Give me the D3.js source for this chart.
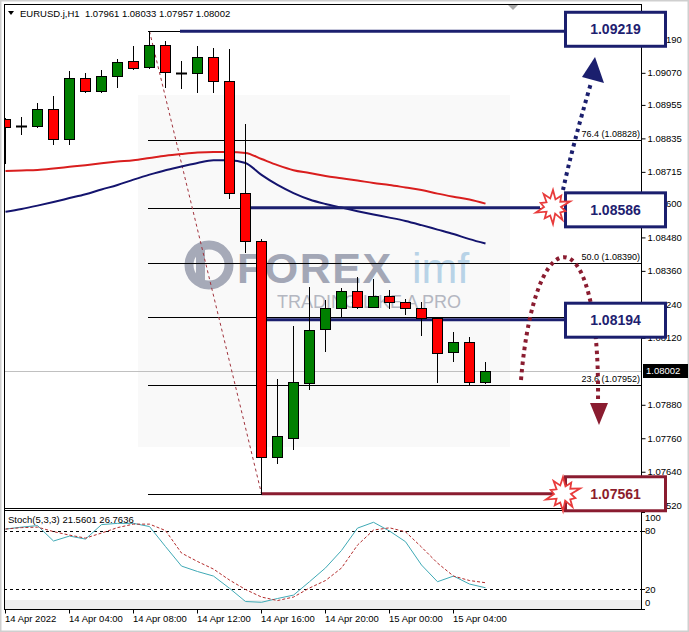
<!DOCTYPE html>
<html><head><meta charset="utf-8">
<script src="https://cdn.jsdelivr.net/npm/d3@7"></script>
<style>
body{margin:0;background:#fff}
svg{display:block}
text{font-family:"Liberation Sans",Arial,sans-serif}
</style>
</head><body>
<svg id="c" width="689" height="632"></svg>
<script>
// ---------------- DATA ----------------
const times = ["2022-04-14 00:00","2022-04-14 01:00","2022-04-14 02:00","2022-04-14 03:00","2022-04-14 04:00","2022-04-14 05:00","2022-04-14 06:00","2022-04-14 07:00","2022-04-14 08:00","2022-04-14 09:00","2022-04-14 10:00","2022-04-14 11:00","2022-04-14 12:00","2022-04-14 13:00","2022-04-14 14:00","2022-04-14 15:00","2022-04-14 16:00","2022-04-14 17:00","2022-04-14 18:00","2022-04-14 19:00","2022-04-14 20:00","2022-04-14 21:00","2022-04-14 22:00","2022-04-14 23:00","2022-04-15 00:00","2022-04-15 01:00","2022-04-15 02:00","2022-04-15 03:00","2022-04-15 04:00","2022-04-15 05:00","2022-04-15 06:00"];
const open  = [1.08904,1.08879,1.08879,1.08940,1.08832,1.09051,1.09005,1.09058,1.09112,1.09091,1.09169,1.09070,1.09069,1.09126,1.09040,1.08640,1.08468,1.07693,1.07762,1.07959,1.08152,1.08227,1.08288,1.08231,1.08271,1.08248,1.08226,1.08190,1.08068,1.08104,1.07961];
const high  = [1.08908,1.08911,1.08962,1.08987,1.09076,1.09069,1.09080,1.09119,1.09166,1.09219,1.09185,1.09113,1.09166,1.09159,1.09155,1.08886,1.08474,1.07972,1.08162,1.08303,1.08256,1.08299,1.08338,1.08331,1.08291,1.08259,1.08249,1.08196,1.08142,1.08124,1.08033];
const low   = [1.08746,1.08850,1.08877,1.08815,1.08815,1.09003,1.09003,1.09019,1.09083,1.09089,1.09020,1.09016,1.09002,1.09002,1.08621,1.08428,1.07561,1.07672,1.07721,1.07937,1.08074,1.08196,1.08227,1.08229,1.08228,1.08205,1.08130,1.07960,1.08038,1.07954,1.07957];
const close = [1.08876,1.08879,1.08940,1.08832,1.09051,1.09005,1.09058,1.09108,1.09087,1.09169,1.09073,1.09070,1.09126,1.09040,1.08640,1.08468,1.07693,1.07768,1.07962,1.08148,1.08227,1.08288,1.08231,1.08271,1.08247,1.08226,1.08190,1.08064,1.08104,1.07960,1.08002];
const maSlow = [1.08718,1.08720,1.08722,1.08727,1.08733,1.08739,1.08746,1.08752,1.08757,1.08765,1.08773,1.08779,1.08784,1.08786,1.08786,1.08783,1.08761,1.08739,1.08721,1.08711,1.08700,1.08692,1.08684,1.08675,1.08668,1.08659,1.08650,1.08637,1.08626,1.08616,1.08601];
const maFast = [1.08572,1.08582,1.08594,1.08607,1.08621,1.08635,1.08652,1.08668,1.08687,1.08705,1.08721,1.08734,1.08747,1.08757,1.08757,1.08747,1.08704,1.08668,1.08639,1.08616,1.08600,1.08587,1.08574,1.08562,1.08551,1.08539,1.08524,1.08508,1.08492,1.08474,1.08458];
const stochK = [82,84,85.6,69.7,74.8,71.7,86.6,87.9,87.9,84.6,64,43.9,38.3,33.6,21,7.4,6.6,10.5,14,27.8,42,60,83,89,80,69,45,27.8,33.6,25.4,21.56];
const stochD = [82,83.5,84,79.4,75.8,72.7,77.9,83.5,87.1,87.1,80.5,57.3,48.6,40.8,29.5,19.8,12,8.4,12,21.3,29,41.9,65.5,81,83.3,79.2,63.5,47,33.6,29,26.76];
const priceTicks = [1.09190,1.09070,1.08955,1.08835,1.08715,1.08600,1.08480,1.08360,1.08240,1.08120,1.07880,1.07760,1.07640,1.07520];
const stochTicks = [100,80,20,0];
const stochLevels = [80,20];
const timeTicks = ["2022-04-14 00:00","2022-04-14 04:00","2022-04-14 08:00","2022-04-14 12:00","2022-04-14 16:00","2022-04-14 20:00","2022-04-15 00:00","2022-04-15 04:00"];
const timeTickLabels = ["14 Apr 2022","14 Apr 04:00","14 Apr 08:00","14 Apr 12:00","14 Apr 16:00","14 Apr 20:00","15 Apr 00:00","15 Apr 04:00"];
const fibHigh = 1.09219, fibLow = 1.07561;
const fibPercents = [0,23.6,38.2,50,61.8,76.4,100];
const fibLabelled = ["23.6 (1.07952)","50.0 (1.08390)","76.4 (1.08828)"];
const fibLabelledPct = [23.6,50,76.4];
const keyLevels = [1.09219,1.08586,1.08194,1.07561];
const keyLabels = ["1.09219","1.08586","1.08194","1.07561"];
const lastPrice = 1.08002;
const headerText = "EURUSD.j,H1  1.07961 1.08033 1.07957 1.08002";
const stochText = "Stoch(5,3,3) 21.5601 26.7636";

// ---------------- SETUP ----------------
const svg = d3.select("#c");
const parse = d3.timeParse("%Y-%m-%d %H:%M");
const T = times.map(parse);
const L = 4, R = 641, MT = 4, MB = 508, ST = 510.5, SB = 609;
const x = d3.scaleTime().domain([T[0], T[T.length-1]]).range([5.5, 485.5]);
const y = d3.scaleLinear().domain([1.07510, 1.09306]).range([508, 7]);
const ys = d3.scaleLinear().domain([0,100]).range([608.7, 511.6]);
const NAVY = "#1b1f6e", MAROON = "#8a1c30", RED = "#ff0000", GREEN = "#008000";
const FS = "9.5px";

const defs = svg.append("defs");
defs.append("clipPath").attr("id","cm").append("rect").attr("x",L+0.5).attr("y",MT+0.5).attr("width",R-L-0.5).attr("height",MB-MT-0.5);
defs.append("clipPath").attr("id","cs").append("rect").attr("x",L+0.5).attr("y",ST+0.5).attr("width",R-L-0.5).attr("height",SB-ST-0.5);

// outer frame
svg.append("rect").attr("x",0.5).attr("y",0.5).attr("width",688).attr("height",631).attr("fill","#fff").attr("stroke","#cfcfcf").attr("stroke-width",2);

const gm = svg.append("g").attr("clip-path","url(#cm)");

// watermark
gm.append("rect").attr("x",138).attr("y",95).attr("width",372).attr("height",352).attr("fill","#f9f9f9");
gm.append("circle").attr("cx",209).attr("cy",265).attr("r",20).attr("fill","none").attr("stroke","#a6aab8").attr("stroke-width",9);
gm.append("rect").attr("x",196).attr("y",250).attr("width",9).attr("height",30).attr("fill","#a6aab8");
gm.append("text").attr("x",237).attr("y",283).attr("font-size","43px").attr("font-weight","bold").attr("letter-spacing","1.5px").attr("fill","#a3a7b6").text("FOREX");
gm.append("text").attr("x",412).attr("y",283).attr("font-size","43px").attr("fill","#b8d3e7").text("imf");
gm.append("text").attr("x",277).attr("y",308).attr("font-size","18px").attr("fill","#b4b7c1").text("TRADING LIKE A PRO");

// current price line
gm.append("line").attr("x1",L).attr("x2",R).attr("y1",Math.round(y(lastPrice))+0.5).attr("y2",Math.round(y(lastPrice))+0.5).attr("stroke","#c0c0c0");

// fib lines
const fibX0 = x(T[9]) - 1.5;
const fibPrice = p => fibLow + (fibHigh - fibLow) * p / 100;
gm.selectAll("line.fib").data(fibPercents).join("line").attr("class","fib")
  .attr("x1",fibX0).attr("x2",R)
  .attr("y1",p=>Math.round(y(fibPrice(p)))+0.5).attr("y2",p=>Math.round(y(fibPrice(p)))+0.5)
  .attr("stroke","#000").attr("stroke-width",1);
gm.selectAll("text.fibl").data(fibLabelledPct).join("text").attr("class","fibl")
  .attr("x",R-1).attr("y",p=>Math.round(y(fibPrice(p)))-3).attr("text-anchor","end")
  .attr("font-size","9px").attr("fill","#000").text((p,i)=>fibLabelled[i]);
// fib trend (dashed diagonal)
gm.append("line").attr("x1",x(T[9])).attr("y1",y(fibHigh)).attr("x2",x(T[16])).attr("y2",y(fibLow))
  .attr("stroke","#a0323c").attr("stroke-width",1).attr("stroke-dasharray","3,3");

// moving averages
const lineGen = arr => d3.line().x((d,i)=>x(T[i])).y(d=>y(d)).curve(d3.curveMonotoneX)(arr);
gm.append("path").attr("d",lineGen(maSlow)).attr("fill","none").attr("stroke","#d91e1e").attr("stroke-width",2);
gm.append("path").attr("d",lineGen(maFast)).attr("fill","none").attr("stroke","#14146e").attr("stroke-width",2);

// key level thick lines
const keyStart = [x(T[11])-1.5, x(T[15])+2.5, x(T[16])+3.5, x(T[16])];
const keyEnd = [565, 540, 565, 558];
const keyOff = [0, 0, 2.5, 0];
keyLevels.forEach((v,i)=>{
  gm.append("line").attr("x1",keyStart[i]).attr("x2",keyEnd[i]).attr("y1",y(v)+keyOff[i]).attr("y2",y(v)+keyOff[i])
    .attr("stroke", i===3 ? MAROON : NAVY).attr("stroke-width",3);
});

// candles
const data = T.map((t,i)=>({t,o:open[i],h:high[i],l:low[i],c:close[i]}));
const cx = d => Math.floor(x(d.t)) + 0.5;
gm.selectAll("line.wick").data(data).join("line").attr("class","wick")
  .attr("x1",cx).attr("x2",cx).attr("y1",d=>Math.round(y(d.h))).attr("y2",d=>Math.round(y(d.l))+1)
  .attr("stroke","#000");
const bodies = data.filter(d=>Math.abs(d.o-d.c) >= 0.00003);
const dojis = data.filter(d=>Math.abs(d.o-d.c) < 0.00003);
gm.selectAll("rect.body").data(bodies).join("rect").attr("class","body")
  .attr("x",d=>cx(d)-5).attr("width",10)
  .attr("y",d=>Math.round(y(Math.max(d.o,d.c)))+0.5)
  .attr("height",d=>Math.max(1,Math.round(y(Math.min(d.o,d.c)))-Math.round(y(Math.max(d.o,d.c)))))
  .attr("fill",d=>d.c>d.o?GREEN:RED).attr("stroke","#000").attr("stroke-width",1);
gm.selectAll("line.doji").data(dojis).join("line").attr("class","doji")
  .attr("x1",d=>cx(d)-5.5).attr("x2",d=>cx(d)+5.5)
  .attr("y1",d=>Math.round(y(d.o))+0.5).attr("y2",d=>Math.round(y(d.o))+0.5)
  .attr("stroke","#000").attr("stroke-width",2);

// chart shift marker
svg.append("path").attr("d","M507,4L519,4L513,10Z").attr("fill","#a8a8a8");

// header
svg.append("path").attr("d","M8,11L14,11L11,15Z").attr("fill","#000");
svg.append("text").attr("x",20).attr("y",17).attr("font-size",FS).attr("fill","#000").attr("xml:space","preserve").text(headerText);

// ---------------- STOCH PANEL ----------------
const gs = svg.append("g").attr("clip-path","url(#cs)");
gs.append("rect").attr("x",L).attr("y",600).attr("width",R-L).attr("height",9).attr("fill","#efefef");
gs.selectAll("line.lvl").data(stochLevels).join("line").attr("class","lvl")
  .attr("x1",L).attr("x2",R).attr("y1",d=>Math.round(ys(d))+0.5).attr("y2",d=>Math.round(ys(d))+0.5)
  .attr("stroke","#000").attr("stroke-dasharray","3,3");
const sLine = d3.line().x((d,i)=>x(T[i])).y(d=>ys(d));
gs.append("path").attr("d",sLine(stochK)).attr("fill","none").attr("stroke","#3fa9b5").attr("stroke-width",1);
gs.append("path").attr("d",sLine(stochD)).attr("fill","none").attr("stroke","#b22b2b").attr("stroke-width",1).attr("stroke-dasharray","3,2");
svg.append("text").attr("x",8).attr("y",523).attr("font-size",FS).attr("fill","#000").text(stochText);

// ---------------- FRAMES & AXES ----------------
const fr = svg.append("g").attr("stroke","#000").attr("stroke-width",1);
fr.append("line").attr("x1",L+0.5).attr("x2",L+0.5).attr("y1",MT).attr("y2",SB+0.5);
fr.append("line").attr("x1",L).attr("x2",R+0.5).attr("y1",MT+0.5).attr("y2",MT+0.5);
fr.append("line").attr("x1",L).attr("x2",R+0.5).attr("y1",MB+0.5).attr("y2",MB+0.5);
fr.append("line").attr("x1",L).attr("x2",R+0.5).attr("y1",ST).attr("y2",ST);
fr.append("line").attr("x1",L).attr("x2",R+0.5).attr("y1",SB+0.5).attr("y2",SB+0.5);
fr.append("line").attr("x1",R+0.5).attr("x2",R+0.5).attr("y1",MT).attr("y2",SB+0.5);

// price axis
const ya = svg.append("g").attr("transform",`translate(${R+0.5},0)`)
  .call(d3.axisRight(y).tickValues(priceTicks).tickSize(4).tickPadding(2).tickFormat(d3.format(".5f")));
ya.select(".domain").remove();
ya.selectAll("text").attr("font-size",FS).attr("font-family","Liberation Sans, Arial, sans-serif").attr("fill","#000");
ya.selectAll("line").attr("stroke","#000");

// stoch axis
const sa = svg.append("g");
sa.selectAll("line").data(stochTicks).join("line")
  .attr("x1",R).attr("x2",R+4).attr("y1",d=>Math.round(ys(d))+0.5).attr("y2",d=>Math.round(ys(d))+0.5).attr("stroke","#000");
sa.selectAll("text").data(stochTicks).join("text")
  .attr("x",R+4).attr("y",d=>Math.min(603,Math.max(517.5,ys(d)))).attr("dy","0.35em")
  .attr("font-size",FS).attr("fill","#000").text(d=>d);

// time axis
const tt = timeTicks.map(parse);
const xa = svg.append("g").attr("transform",`translate(0,${SB+0.5})`)
  .call(d3.axisBottom(x).tickValues(tt).tickSize(4).tickFormat((d,i)=>timeTickLabels[i]));
xa.select(".domain").remove();
xa.selectAll(".tick line").attr("stroke","#000").attr("transform","translate(-0.5,0)");
xa.selectAll("text").attr("text-anchor","start").attr("font-size",FS).attr("font-family","Liberation Sans, Arial, sans-serif")
  .attr("fill","#000").attr("dx","-1").attr("y",6);

// last price label
const ly = Math.round(y(lastPrice));
svg.append("rect").attr("x",R+2).attr("y",ly-7).attr("width",45).attr("height",14).attr("fill","#000");
svg.append("text").attr("x",R+5).attr("y",ly).attr("dy","0.35em").attr("font-size",FS).attr("fill","#fff").text("1.08002");

// ---------------- ANNOTATIONS ----------------
const ann = svg.append("g");
// dotted arrows
ann.append("path").attr("d","M563,190 Q572,148 591,83").attr("fill","none").attr("stroke",NAVY)
  .attr("stroke-width",4).attr("stroke-dasharray","3.5,4");
ann.append("path").attr("d","M595,57 L582,77 L604,83 Z").attr("fill",NAVY);
ann.append("path").attr("d","M521,380 C535,213 600,213 598,400").attr("fill","none").attr("stroke",MAROON)
  .attr("stroke-width",4).attr("stroke-dasharray","3.5,4");
ann.append("path").attr("d","M590,403 L608,403 L599,425 Z").attr("fill",MAROON);

// boxes
const boxOff = [-2, 2, 3, 0];
keyLevels.forEach((v,i)=>{
  const cy = y(v) + boxOff[i];
  const col = i===3 ? MAROON : NAVY;
  ann.append("rect").attr("x",565.5).attr("y",cy-17).attr("width",100).attr("height",34)
    .attr("fill","#fff").attr("stroke",col).attr("stroke-width",3);
  ann.append("text").attr("x",615.5).attr("y",cy).attr("dy","0.36em").attr("text-anchor","middle")
    .attr("font-size","14px").attr("font-weight","bold").attr("fill",i===3?"#8c1d2c":"#1e2170").text(keyLabels[i]);
});

// starbursts
const burstR = [17,8,14,9,18,8,13,9,16,7,17,9,14,8,18,9,13,8,16,9];
function burst(cx0, cy0){
  const pts = burstR.map((r,i)=>{const a = i*Math.PI*2/burstR.length - Math.PI/2; return [cx0+r*Math.cos(a), cy0+r*Math.sin(a)];});
  ann.append("path").attr("d","M"+pts.map(p=>p.join(",")).join("L")+"Z").attr("fill","#fff").attr("stroke","#e83b3b").attr("stroke-width",1.8);
}
burst(553, 207);
burst(563, 494);
</script>
</body></html>
